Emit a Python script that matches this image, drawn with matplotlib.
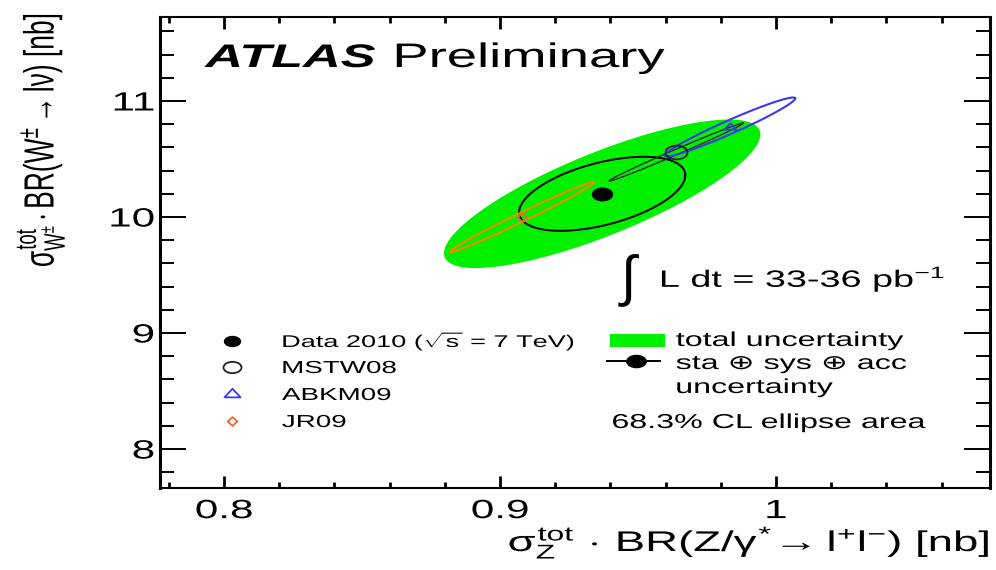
import numpy as np
import matplotlib
matplotlib.use("Agg")
import matplotlib.pyplot as plt
from matplotlib.path import Path
from matplotlib.transforms import Affine2D
from matplotlib.patheffects import AbstractPathEffect
from matplotlib.patches import Rectangle
from matplotlib.ticker import MultipleLocator

plt.rcParams["font.family"] = ["Liberation Sans", "DejaVu Sans"]
plt.rcParams["mathtext.fontset"] = "custom"
plt.rcParams["mathtext.rm"] = "Liberation Sans"
plt.rcParams["mathtext.it"] = "Liberation Sans"
plt.rcParams["mathtext.sf"] = "Liberation Sans"
plt.rcParams["mathtext.bf"] = "Liberation Sans:bold"

# Measured W and Z cross sections times branching ratio [nb]
data_z = 0.937
data_w = 10.20

# 68.3% CL contours: (half-width in sigma_Z, half-width in sigma_W, correlation)
total_unc = (0.0573, 0.64, 0.80)
exp_unc = (0.0301, 0.319, 0.50)

# NNLO predictions for the different PDF sets
pdf_names = ["MSTW08", "ABKM09", "JR09"]
pdf_z = [0.9638, 0.9833, 0.9080]
pdf_w = [10.56, 10.776, 10.00]
pdf_dz = [0.0243, 0.0236, 0.0261]
pdf_dw = [0.25, 0.254, 0.302]
pdf_rho = [0.995, 0.968, 0.990]

x_ticks = [0.8, 0.9, 1.0]
x_ticklabels = ["0.8", "0.9", "1"]
y_ticks = [8, 9, 10, 11]
y_ticklabels = ["8", "9", "10", "11"]

lumi_text = r"L dt = 33-36 pb$^{\mathregular{-1}}$"

S = 1.6  # horizontal widening of glyphs and markers


class Stretch(AbstractPathEffect):
    """Widen the glyph outlines of a text around an anchor on its outline."""

    def __init__(self, sx=1.0, sy=1.0, fx=0.0, fy=0.0):
        super().__init__()
        self.sx, self.sy, self.fx, self.fy = sx, sy, fx, fy

    def draw_path(self, renderer, gc, tpath, affine, rgbFace=None):
        v = tpath.vertices
        if tpath.codes is not None:
            v = v[tpath.codes != Path.CLOSEPOLY]
        if len(v):
            x0 = v[:, 0].min() + self.fx * np.ptp(v[:, 0])
            y0 = v[:, 1].min() + self.fy * np.ptp(v[:, 1])
        else:
            x0 = y0 = 0.0
        pre = Affine2D().translate(-x0, -y0).scale(self.sx, self.sy).translate(x0, y0)
        renderer.draw_path(gc, tpath, pre + affine, rgbFace)


def wide(fx=0.0):
    return [Stretch(sx=S, fx=fx)]


def contour(cx, cy, dx, dy, rho, n=400):
    t = np.linspace(0, 2 * np.pi, n)
    x = cx + dx * np.cos(t)
    y = cy + dy * (rho * np.cos(t) + np.sqrt(1 - rho ** 2) * np.sin(t))
    return x, y


circ = Path.unit_circle()
m_ellipse = Path(circ.vertices * [S, 1.0], circ.codes)
m_triangle = Path([(-S * 0.87, -0.5), (S * 0.87, -0.5), (0, 1.0), (-S * 0.87, -0.5)],
                  [Path.MOVETO, Path.LINETO, Path.LINETO, Path.CLOSEPOLY])
m_diamond = Path([(0, -1), (1.1, 0), (0, 1), (-1.1, 0), (0, -1)],
                 [Path.MOVETO, Path.LINETO, Path.LINETO, Path.LINETO, Path.CLOSEPOLY])

green = "#00f000"
line_cols = ["#2a2a2a", "#3838f0", "#f08c00"]
mark_cols = ["#222222", "#3838f0", "#f06430"]
markers = [m_ellipse, m_triangle, m_diamond]

fig = plt.figure(figsize=(9.96, 5.70), dpi=100)
ax = fig.add_axes([160 / 996, 82 / 570, 830 / 996, 471 / 570])

# total uncertainty contour
xz, yw = contour(data_z, data_w, *total_unc)
ax.fill(xz, yw, color=green, lw=0, zorder=1)
# statistical + systematic + acceptance contour
xz, yw = contour(data_z, data_w, *exp_unc)
ax.plot(xz, yw, color="black", lw=1.4, zorder=3)

# PDF predictions
order = [2, 0, 1]
for i in order:
    xz, yw = contour(pdf_z[i], pdf_w[i], pdf_dz[i], pdf_dw[i], pdf_rho[i])
    ax.plot(xz, yw, color=line_cols[i], lw=1.5 if i else 1.0, zorder=4)
ms_plot = [15.8, 8.6, 7.0]
for i in order:
    ax.plot(pdf_z[i], pdf_w[i], ls="none", marker=markers[i], ms=ms_plot[i],
            mfc="none", mec=mark_cols[i], mew=1.3, zorder=5)

ax.plot(data_z, data_w, ls="none", marker=m_ellipse, ms=14.4, color="black", zorder=6)

ax.set_xlim(0.7768, 1.0775)
ax.set_ylim(7.664, 11.724)
ax.set_xticks(x_ticks)
ax.set_xticklabels(x_ticklabels)
ax.set_yticks(y_ticks)
ax.set_yticklabels(y_ticklabels)
ax.xaxis.set_minor_locator(MultipleLocator(0.02))
ax.yaxis.set_minor_locator(MultipleLocator(0.2))
ax.tick_params(axis="x", which="major", direction="in", length=8.6, width=2.0,
               top=True, bottom=True, labelsize=19, pad=8)
ax.tick_params(axis="x", which="minor", direction="in", length=4.3, width=2.0,
               top=True, bottom=True)
ax.tick_params(axis="y", which="major", direction="in", length=18.7, width=1.4,
               left=True, right=True, labelsize=19, pad=4)
ax.tick_params(axis="y", which="minor", direction="in", length=10, width=1.4,
               left=True, right=True)
for lab in ax.get_xticklabels():
    lab.set_path_effects(wide(0.5))
for lab in ax.get_yticklabels():
    lab.set_path_effects(wide(1.0))
for side in ["left", "right"]:
    ax.spines[side].set_linewidth(2.2)
for side in ["top", "bottom"]:
    ax.spines[side].set_linewidth(1.5)

xl = ax.set_xlabel(r"$\sigma^{\mathregular{tot}}_{\mathregular{Z}}\,\cdot\,$BR(Z/$\gamma^{*}\!\rightarrow$l$^{+}$l$^{-}$) [nb]",
                   fontsize=20.5, loc="right")
ax.xaxis.set_label_coords(1.0, -0.078)
xl.set_path_effects(wide(1.0))
yl = ax.set_ylabel(r"$\sigma^{\mathregular{tot}}_{\mathregular{W}^{\pm}}\cdot$BR(W$^{\pm}\rightarrow$l$\nu$) [nb]",
                   fontsize=19, loc="top")
ax.yaxis.set_label_coords(-0.112, 1.0085)
yl.set_path_effects([Stretch(sy=S, fy=0.0)])

T = ax.transAxes


def ax_x(px):
    return (px - 160) / 830


def ax_y(py):
    return (488 - py) / 471


def label(px, py, s, size, **kw):
    t = ax.text(ax_x(px), ax_y(py), s, transform=T, fontsize=size, ha="left",
                va="baseline", **kw)
    t.set_path_effects(wide(0.0))
    return t


label(205, 67, "ATLAS", 23.5, weight="bold", style="italic")
label(394, 67, "Preliminary", 24.5)

# integrated luminosity
ax.text(ax_x(621), ax_y(294), "\u222b", transform=T, fontsize=40, ha="left",
        va="baseline")
label(660, 287, lumi_text, 17)

# left legend: data point and PDF sets
leg_x = 232
rows = [341, 367, 394, 421]
ax.plot(ax_x(leg_x), ax_y(rows[0]), transform=T, marker=m_ellipse, ms=11.5,
        color="black", ls="none", clip_on=False)
label(282, rows[0] + 6, r"Data 2010 ($\sqrt{\mathregular{s}}$ = 7 TeV)", 12.2)
ms_leg = [13.0, 11.5, 7.0]
for i, name in enumerate(pdf_names):
    ax.plot(ax_x(leg_x), ax_y(rows[i + 1]), transform=T, marker=markers[i],
            ms=ms_leg[i], mfc="none", mec=mark_cols[i], mew=1.3, ls="none",
            clip_on=False)
    label(282, rows[i + 1] + 6, name, 12.5)

# right legend: uncertainty contours
ax.add_patch(Rectangle((ax_x(610), ax_y(347)), 55 / 830, 13 / 471, transform=T,
                       color=green, lw=0))
label(676, 346, "total uncertainty", 14.5)
ax.plot([ax_x(607), ax_x(660)], [ax_y(361), ax_y(361)], transform=T, color="black",
        lw=1.4)
ax.plot(ax_x(636), ax_y(361), transform=T, marker=m_ellipse, ms=14.0, color="black",
        ls="none")
label(676, 369, "sta \u2295 sys \u2295 acc", 14.5)
label(676, 393, "uncertainty", 14.5)
label(612, 428, "68.3% CL ellipse area", 14.5)

fig.savefig("out.png", dpi=100)
